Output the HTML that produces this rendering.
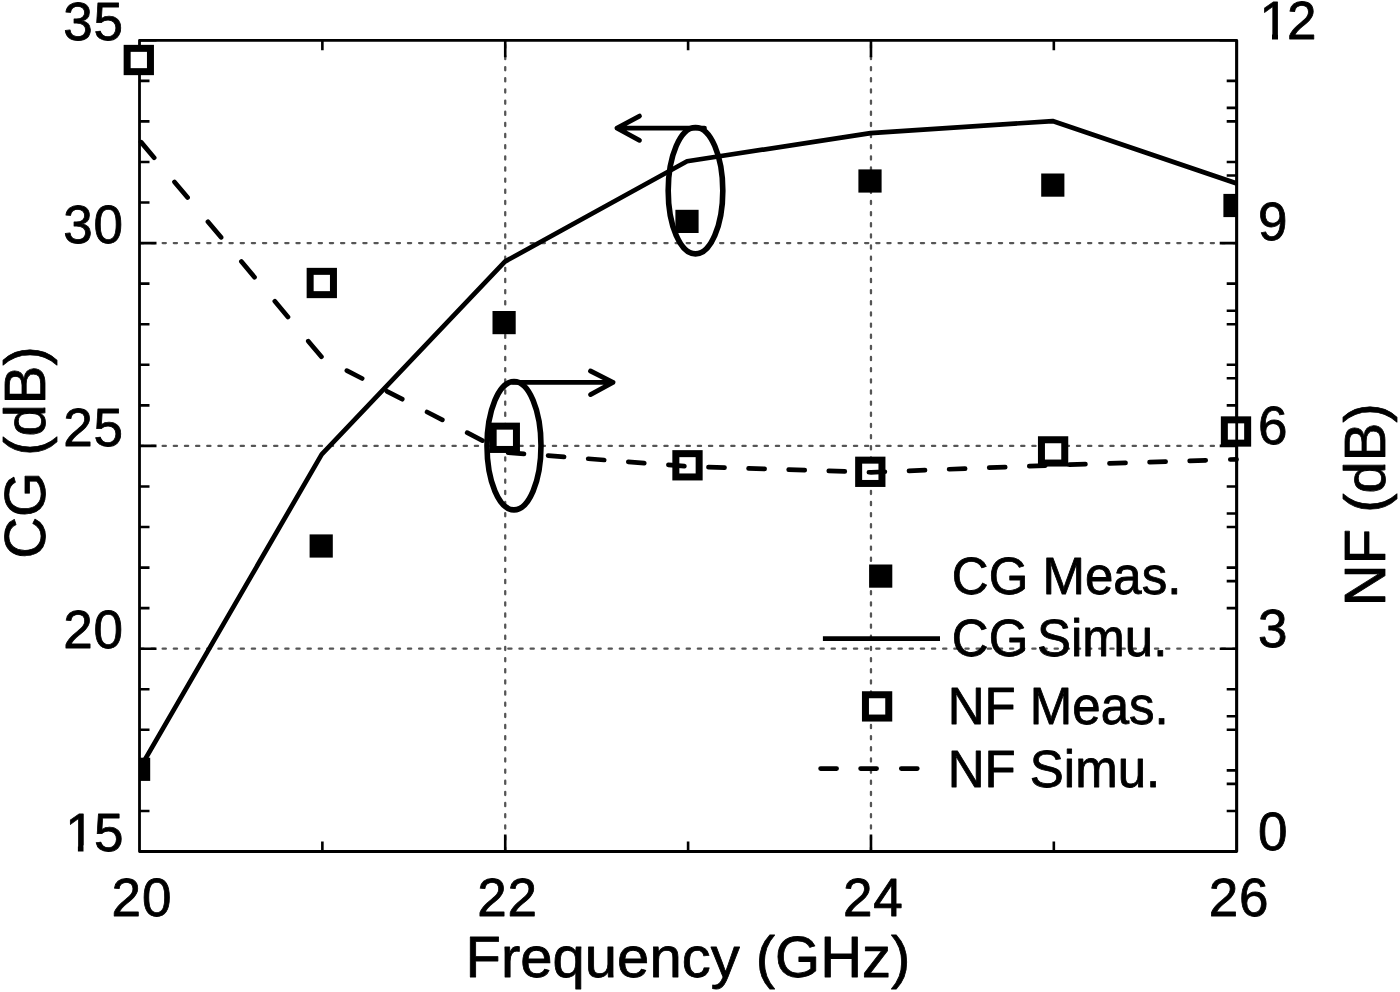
<!DOCTYPE html>
<html><head><meta charset="utf-8"><title>CG and NF vs Frequency</title>
<style>html,body{margin:0;padding:0;background:#fff;width:1400px;height:992px;overflow:hidden}svg{display:block}</style>
</head><body>
<svg width="1400" height="992" viewBox="0 0 1400 992"><rect width="1400" height="992" fill="#fff"/><line x1="139.5" y1="243.10" x2="1236.7" y2="243.10" stroke="#555" stroke-width="2.3" stroke-dasharray="3.2 7.95" stroke-dashoffset="-0.85" stroke-linecap="round"/><line x1="139.5" y1="445.90" x2="1236.7" y2="445.90" stroke="#555" stroke-width="2.3" stroke-dasharray="3.2 7.95" stroke-dashoffset="-0.85" stroke-linecap="round"/><line x1="139.5" y1="648.70" x2="1236.7" y2="648.70" stroke="#555" stroke-width="2.3" stroke-dasharray="3.2 7.95" stroke-dashoffset="-0.85" stroke-linecap="round"/><line x1="505.23" y1="40.3" x2="505.23" y2="851.5" stroke="#555" stroke-width="2.3" stroke-dasharray="3.2 7.95" stroke-dashoffset="-4.5" stroke-linecap="round"/><line x1="870.97" y1="40.3" x2="870.97" y2="851.5" stroke="#555" stroke-width="2.3" stroke-dasharray="3.2 7.95" stroke-dashoffset="-4.5" stroke-linecap="round"/><path d="M139.5 851.50h17M1236.7 851.50h-17M139.5 810.94h10M1236.7 810.94h-10M139.5 770.38h10M1236.7 770.38h-10M139.5 729.82h10M1236.7 729.82h-10M139.5 689.26h10M1236.7 689.26h-10M139.5 648.70h17M1236.7 648.70h-17M139.5 608.14h10M1236.7 608.14h-10M139.5 567.58h10M1236.7 567.58h-10M139.5 527.02h10M1236.7 527.02h-10M139.5 486.46h10M1236.7 486.46h-10M139.5 445.90h17M1236.7 445.90h-17M139.5 405.34h10M1236.7 405.34h-10M139.5 364.78h10M1236.7 364.78h-10M139.5 324.22h10M1236.7 324.22h-10M139.5 283.66h10M1236.7 283.66h-10M139.5 243.10h17M1236.7 243.10h-17M139.5 202.54h10M1236.7 202.54h-10M139.5 161.98h10M1236.7 161.98h-10M139.5 121.42h10M1236.7 121.42h-10M139.5 80.86h10M1236.7 80.86h-10M139.5 40.30h17M1236.7 40.30h-17M1236.7 851.50h-17M1236.7 783.90h-10M1236.7 716.30h-10M1236.7 648.70h-17M1236.7 581.10h-10M1236.7 513.50h-10M1236.7 445.90h-17M1236.7 378.30h-10M1236.7 310.70h-10M1236.7 243.10h-17M1236.7 175.50h-10M1236.7 107.90h-10M1236.7 40.30h-17M322.37 851.5v-10M322.37 40.3v10M505.23 851.5v-17M505.23 40.3v17M688.10 851.5v-10M688.10 40.3v10M870.97 851.5v-17M870.97 40.3v17M1053.83 851.5v-10M1053.83 40.3v10" stroke="#000" stroke-width="2.6" fill="none"/><clipPath id="cp"><rect x="139.5" y="40.3" width="1097.2" height="811.2"/></clipPath><polyline clip-path="url(#cp)" points="139.5,769.0 321.7,454.4 504.9,261.6 687.1,161.3 870.5,133.1 1052.6,121.1 1236.7,183.5" fill="none" stroke="#000" stroke-width="4.7" stroke-linejoin="round"/><g clip-path="url(#cp)" fill="#000"><rect x="127.00" y="757.70" width="23.2" height="23.2"/><rect x="309.60" y="534.40" width="23.2" height="23.2"/><rect x="492.50" y="311.00" width="23.2" height="23.2"/><rect x="675.40" y="209.80" width="23.2" height="23.2"/><rect x="858.40" y="169.40" width="23.2" height="23.2"/><rect x="1041.20" y="173.50" width="23.2" height="23.2"/><rect x="1223.40" y="193.90" width="23.2" height="23.2"/></g><rect x="139.5" y="40.3" width="1097.20" height="811.20" fill="none" stroke="#000" stroke-width="2.8" stroke-linejoin="round"/><g fill="#fff" stroke="#000" stroke-width="7.0"><rect x="127.15" y="48.35" width="23.3" height="23.3"/><rect x="310.15" y="271.35" width="23.3" height="23.3"/><rect x="493.15" y="426.15" width="23.3" height="23.3"/><rect x="675.85" y="453.65" width="23.3" height="23.3"/><rect x="858.65" y="460.15" width="23.3" height="23.3"/><rect x="1041.45" y="439.75" width="23.3" height="23.3"/><rect x="1224.35" y="419.85" width="23.3" height="23.3"/></g><path d="M141.04 142.13L154.16 157.75M174.49 181.93L187.61 197.55M207.94 221.74L221.06 237.35M241.39 261.54L254.51 277.16M274.84 301.34L287.96 316.96M308.29 341.15L321.41 356.77M346.86 370.60L362.14 378.49M386.96 391.30L402.24 399.19M427.06 412.01L442.34 419.90M467.16 432.71L482.44 440.60M508.02 452.61L523.98 453.83M548.12 455.68L564.08 456.90M588.22 458.75L604.18 459.97M628.32 461.82L644.28 463.04M668.42 464.89L684.38 466.11M708.50 467.06L724.50 467.57M748.60 468.35L764.60 468.87M788.70 469.64L804.70 470.16M828.80 470.94L844.80 471.45M868.91 472.23L871.00 472.30L884.89 471.76M909.01 470.82L924.99 470.20M949.11 469.27L965.09 468.65M989.21 467.71L1005.19 467.09M1029.31 466.15L1045.29 465.53M1069.40 464.70L1085.40 464.18M1109.50 463.41L1125.50 462.89M1149.60 462.11L1165.60 461.59M1189.70 460.82L1205.70 460.30M1230.3 459.51L1236.5 459.31" fill="none" stroke="#000" stroke-width="4.7" stroke-linecap="round" stroke-linejoin="round"/><line x1="1236.7" y1="40.3" x2="1236.7" y2="851.5" stroke="#000" stroke-width="2.8"/><ellipse cx="695.5" cy="190.7" rx="27.3" ry="63.2" fill="none" stroke="#000" stroke-width="5.6"/><ellipse cx="514" cy="445.7" rx="27" ry="64.2" fill="none" stroke="#000" stroke-width="5.6"/><path d="M704.5 128.2H617M639.5 116.1L617 128.2L639.5 140.3" fill="none" stroke="#000" stroke-width="4.8" stroke-linecap="round" stroke-linejoin="round"/><path d="M513 382.4H613M590.5 371L613 382.4L590.5 394.6" fill="none" stroke="#000" stroke-width="4.8" stroke-linecap="round" stroke-linejoin="round"/><rect x="869.10" y="564.50" width="23.2" height="23.2" fill="#000"/><line x1="822.9" y1="638.6" x2="940" y2="638.6" stroke="#000" stroke-width="4.7"/><rect x="865.45" y="694.75" width="23.3" height="23.3" fill="#fff" stroke="#000" stroke-width="7.0"/><path d="M820.6 768.6h16M860.6 768.6h16M901.3 768.6h16" stroke="#000" stroke-width="4.7" stroke-linecap="round"/><g font-family="'Liberation Sans', Arial, Helvetica, sans-serif" fill="#000" stroke="#000" stroke-width="0.8" stroke-linejoin="round"><text x="123.8" y="40.00" text-anchor="end" font-size="53" letter-spacing="0.8">35</text><text x="123.8" y="242.80" text-anchor="end" font-size="53" letter-spacing="0.8">30</text><text x="123.8" y="445.60" text-anchor="end" font-size="53" letter-spacing="0.8">25</text><text x="123.8" y="648.40" text-anchor="end" font-size="53" letter-spacing="0.8">20</text><text y="851.20" font-size="53" letter-spacing="0.8"><tspan x="65.3">1</tspan><tspan x="94.1">5</tspan></text><text x="1258" y="239.60" font-size="53" letter-spacing="0.8">9</text><text x="1258" y="443.60" font-size="53" letter-spacing="0.8">6</text><text x="1258" y="647.20" font-size="53" letter-spacing="0.8">3</text><text x="1258" y="850.00" font-size="53" letter-spacing="0.8">0</text><text y="38.80" font-size="53" letter-spacing="0.8"><tspan x="1259.6">1</tspan><tspan x="1287.1">2</tspan></text><text x="141.90" y="916" text-anchor="middle" font-size="53" letter-spacing="0.8">20</text><text x="507.63" y="916" text-anchor="middle" font-size="53" letter-spacing="0.8">22</text><text x="873.37" y="916" text-anchor="middle" font-size="53" letter-spacing="0.8">24</text><text x="1239.10" y="916" text-anchor="middle" font-size="53" letter-spacing="0.8">26</text><text x="688" y="976.6" text-anchor="middle" font-size="58">Frequency (GHz)</text><text transform="translate(44.5 452.5) rotate(-90)" text-anchor="middle" font-size="58">CG (dB)</text><text transform="translate(1384.5 504.7) rotate(-90)" text-anchor="middle" font-size="58">NF (dB)</text><text x="951.8" y="593.8" font-size="51">CG Meas.</text><text x="951.8" y="656.2" font-size="51">CG <tspan dx="-5.5">Simu.</tspan></text><text x="947.7" y="723.8" font-size="51">NF Meas.</text><text x="947.7" y="786.8" font-size="51">NF Simu.</text></g><g fill="#fff"><rect x="65.5" y="845.4" width="12.4" height="7.5"/><rect x="83.5" y="845.4" width="10" height="7.5"/><rect x="1261" y="33.4" width="11" height="7.5"/><rect x="1278" y="33.4" width="9.5" height="7.5"/></g></svg>
</body></html>
